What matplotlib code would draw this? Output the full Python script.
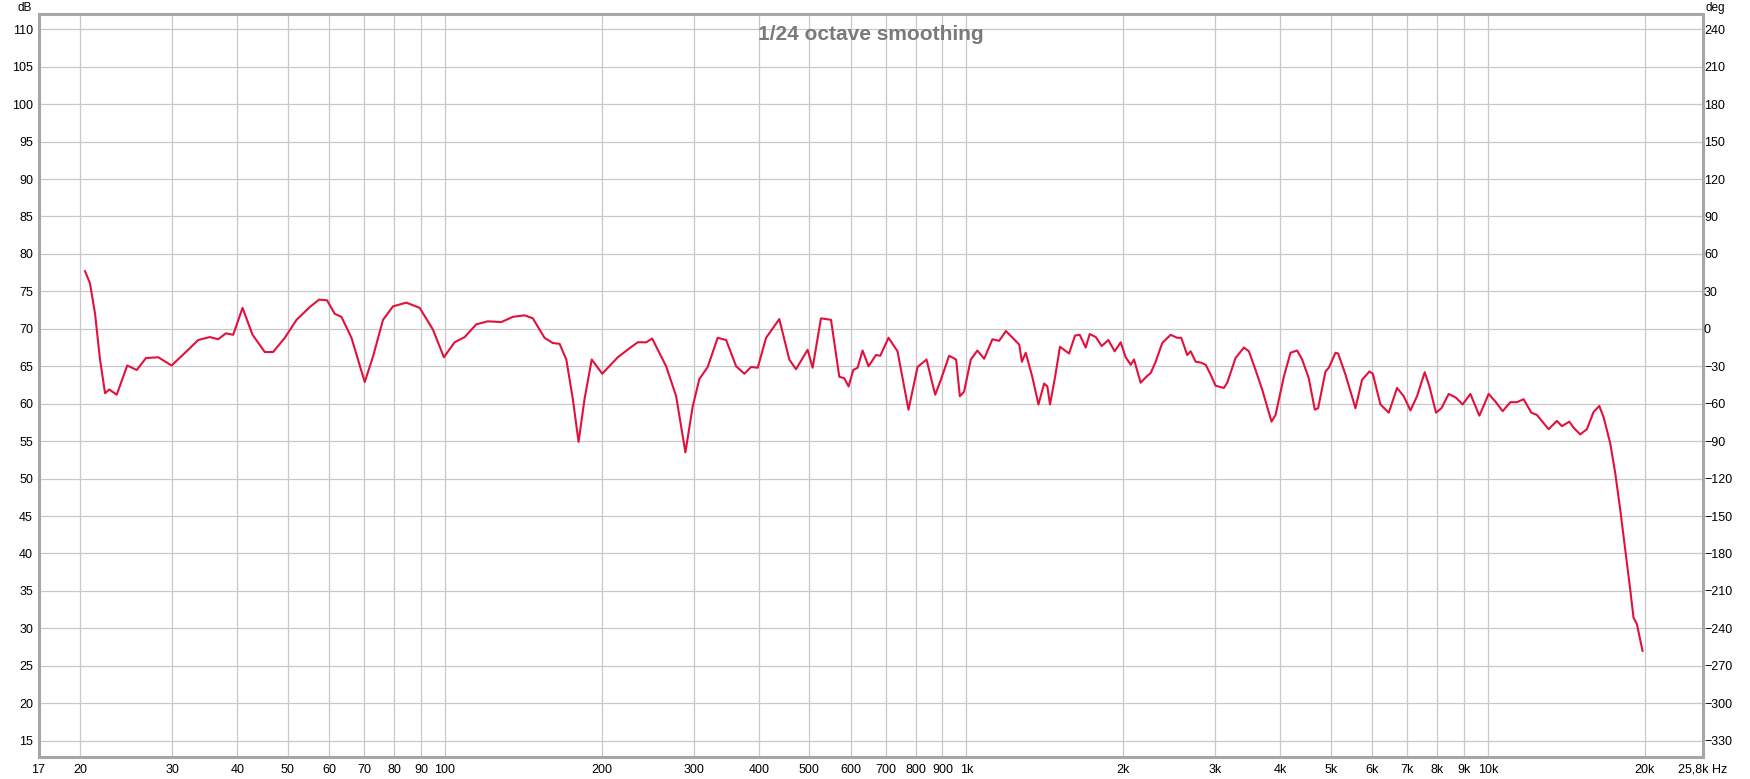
import numpy as np
import matplotlib.pyplot as plt
from matplotlib.ticker import FixedLocator, NullLocator

plt.rcParams['font.family'] = ['Liberation Sans', 'DejaVu Sans']

freq_hz = [20.42, 20.87, 21.34, 21.82, 22.31, 22.73, 23.49, 24.61, 25.66, 26.73,
           28.22, 29.93, 31.98, 33.66, 35.44, 36.76, 38.04, 39.28, 40.94, 42.79,
           45.17, 46.86, 49.34, 51.96, 55.08, 57.40, 59.46, 61.51, 63.36, 66.22,
           70.22, 72.84, 76.12, 79.55, 84.39, 89.48, 94.89, 99.6, 104.4, 109.2,
           114.9, 120.9, 128.3, 135.1, 142.2, 147.5, 155.3, 161.1, 166.0, 171.0,
           176.0, 180.5, 185.3, 191.3, 200.4, 214.6, 226.0, 234.4, 243.3, 249.8,
           265.7, 277.7, 289.3, 298.7, 307.7, 319.2, 333.6, 346.3, 361.9, 375.4,
           386.6, 398.1, 413.1, 437.9, 457.7, 471.4, 496.2, 507.3, 526.4, 550.2,
           570.7, 583.4, 594.6, 607.1, 618.7, 632.5, 649.4, 671.0, 683.8, 709.3,
           738.0, 774.7, 806.2, 838.8, 871.6, 893.7, 927.0, 956, 971.8, 990,
           1020, 1050, 1082, 1122, 1156, 1191, 1235, 1263, 1278, 1300,
           1338, 1375, 1410, 1430, 1447, 1480, 1512, 1574, 1616, 1650,
           1694, 1724, 1771, 1818, 1872, 1925, 1977, 2021, 2067, 2097,
           2159, 2214, 2257, 2307, 2375, 2465, 2537, 2583, 2652, 2692,
           2753, 2814, 2877, 2940, 3006, 3118, 3164, 3283, 3406, 3482,
           3586, 3692, 3848, 3917, 4063, 4184, 4308, 4405, 4536, 4658,
           4727, 4883, 4955, 5104, 5164, 5333, 5574, 5739, 5929, 6017,
           6224, 6457, 6698, 6898, 7106, 7315, 7568, 7727, 7955, 8147,
           8413, 8688, 8949, 9257, 9634, 10037, 10337, 10676, 11043, 11371,
           11711, 12117, 12419, 13078, 13566, 13869, 14330, 14602, 15039, 15485,
           15951, 16357, 16672, 17170, 17554, 17946, 18347, 18750, 19029, 19307,
           19541, 19799]
spl_db = [77.7, 76.1, 72.1, 65.9, 61.4, 61.9, 61.2, 65.1, 64.5, 66.1,
          66.2, 65.1, 67.0, 68.5, 68.9, 68.6, 69.4, 69.2, 72.8, 69.2,
          66.9, 66.9, 68.8, 71.2, 72.9, 73.9, 73.8, 72.0, 71.6, 68.8,
          62.9, 66.3, 71.2, 73.0, 73.5, 72.8, 69.9, 66.2, 68.2, 68.9,
          70.6, 71.0, 70.9, 71.6, 71.8, 71.4, 68.8, 68.1, 68.0, 65.9,
          60.6, 54.9, 60.6, 65.9, 64.0, 66.2, 67.4, 68.2, 68.2, 68.7,
          65.0, 61.0, 53.5, 59.6, 63.3, 64.9, 68.8, 68.5, 65.0, 64.0,
          64.9, 64.8, 68.8, 71.3, 65.9, 64.6, 67.2, 64.8, 71.4, 71.2,
          63.6, 63.4, 62.3, 64.5, 64.8, 67.1, 65.0, 66.5, 66.4, 68.8,
          67.0, 59.2, 64.9, 65.9, 61.2, 63.2, 66.4, 65.9, 61.0, 61.6,
          65.9, 67.1, 66.0, 68.6, 68.4, 69.7, 68.6, 67.9, 65.6, 66.8,
          63.6, 59.9, 62.7, 62.3, 59.9, 63.6, 67.6, 66.7, 69.1, 69.2,
          67.5, 69.3, 68.9, 67.7, 68.5, 67.0, 68.2, 66.2, 65.2, 65.9,
          62.8, 63.6, 64.1, 65.6, 68.1, 69.2, 68.8, 68.8, 66.5, 67.0,
          65.6, 65.5, 65.2, 63.9, 62.4, 62.1, 62.8, 66.1, 67.5, 67.0,
          64.5, 61.9, 57.6, 58.5, 63.6, 66.8, 67.1, 65.9, 63.4, 59.2,
          59.4, 64.3, 64.8, 66.8, 66.7, 63.9, 59.4, 63.2, 64.3, 64.0,
          59.9, 58.8, 62.1, 61.0, 59.1, 61.0, 64.2, 62.3, 58.8, 59.4,
          61.3, 60.8, 59.9, 61.3, 58.4, 61.3, 60.3, 59.0, 60.2, 60.2,
          60.6, 58.8, 58.5, 56.6, 57.7, 57.0, 57.6, 56.8, 55.9, 56.6,
          58.9, 59.7, 58.2, 54.7, 50.7, 45.8, 40.5, 35.2, 31.4, 30.6,
          28.9, 27.0]

x_grid = [20, 30, 40, 50, 60, 70, 80, 90, 100, 200, 300, 400, 500, 600, 700, 800, 900,
          1000, 2000, 3000, 4000, 5000, 6000, 7000, 8000, 9000, 10000, 20000]
x_ticks = [16.63] + x_grid + [25800]
x_labels = ['17', '20', '30', '40', '50', '60', '70', '80', '90', '100', '200', '300', '400',
            '500', '600', '700', '800', '900', '1k', '2k', '3k', '4k', '5k', '6k', '7k', '8k',
            '9k', '10k', '20k', '25,8k Hz']
db_ticks = list(range(15, 111, 5))
deg_ticks = list(range(-330, 241, 30))

W, H = 1750, 779
fig = plt.figure(figsize=(W / 100, H / 100), dpi=100)
ax = fig.add_axes([38.5 / W, 1 - 757 / H, (1702.5 - 38.5) / W, (757 - 14) / H])

ax.set_xscale('log')
ax.set_xlim(16.63, 25800)
ax.set_ylim(12.82, 112.04)

ax.xaxis.set_major_locator(FixedLocator(x_ticks))
ax.xaxis.set_minor_locator(NullLocator())
ax.set_xticklabels(x_labels)
ax.set_yticks(db_ticks)
ax.tick_params(axis='both', length=0, labelsize=9, colors='black')
ax.tick_params(axis='x', pad=5)
ax.tick_params(axis='y', pad=4)

for f in x_grid:
    ax.axvline(f, color='#c8c8c8', lw=0.9, zorder=0)
for d in db_ticks:
    ax.axhline(d, color='#c8c8c8', lw=0.9, zorder=0)

ax.plot(freq_hz, spl_db, color='#e3103c', lw=1.5, zorder=3)

for s in ax.spines.values():
    s.set_color('#a6a6a6')
    s.set_linewidth(2.2)

ax2 = ax.twinx()
ax2.set_ylim(240 - 6 * (110 - 12.82), 240 - 6 * (110 - 112.04))
ax2.set_yticks(deg_ticks)
ax2.tick_params(axis='y', length=0, labelsize=9, pad=1)
for s in ax2.spines.values():
    s.set_visible(False)

ax.text(0.5, 0.985, '1/24 octave smoothing', transform=ax.transAxes, ha='center', va='top',
        fontsize=15, fontweight='bold', color='#7a7a7a', zorder=4)
fig.text(25 / W, 1 - 2 / H, 'dB', ha='center', va='top', fontsize=8.5)
fig.text(1715 / W, 1 - 2 / H, 'deg', ha='center', va='top', fontsize=8.5)

fig.savefig('out.png', dpi=100, facecolor='white')
